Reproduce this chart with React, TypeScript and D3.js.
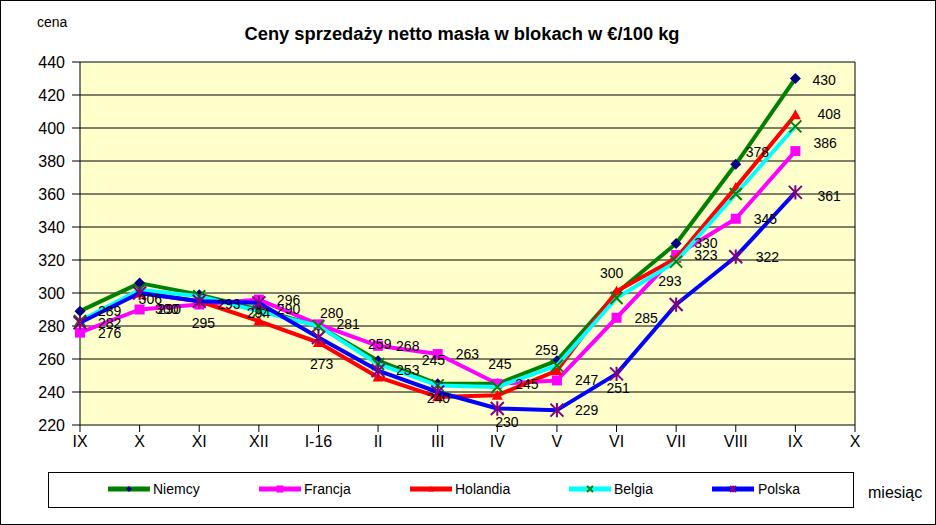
import React from 'react';
import * as d3 from 'd3';

const months = ['IX', 'X', 'XI', 'XII', 'I-16', 'II', 'III', 'IV', 'V', 'VI', 'VII', 'VIII', 'IX', 'X'];
const niemcy = [289, 306, 299, 290, 280, 259, 245, 245, 259, 300, 330, 378, 430];
const francja = [276, 290, 293, 296, 281, 268, 263, 245, 247, 285, 323, 345, 386];
const holandia = [283, 300, 295, 283, 270, 249, 237, 238, 253, 301, 321, 364, 408];
const belgia = [283, 302, 298, 289, 280, 257, 244, 243, 256, 297, 319, 360, 401];
const polska = [282, 300, 295, 294, 273, 253, 240, 230, 229, 251, 293, 322, 361];
const yTicks = [220, 240, 260, 280, 300, 320, 340, 360, 380, 400, 420, 440];
const seriesNames = ['Niemcy', 'Francja', 'Holandia', 'Belgia', 'Polska'];

// which points carry a data label
const labelledNiemcy = [0, 1, 3, 4, 5, 6, 7, 8, 9, 10, 11, 12];
const labelledFrancja = [0, 1, 2, 3, 4, 5, 6, 7, 8, 9, 10, 11, 12];
const labelledHolandia = [12];
const labelledBelgia: number[] = [];
const labelledPolska = [0, 1, 2, 3, 4, 5, 6, 7, 8, 9, 10, 11, 12];

// styling: label nudges (dx from point to label's left edge, dy to label centre)
const nudges: Record<string, [number, number]> = {
  'Niemcy:1': [-1, 16], 'Niemcy:4': [1.5, -13], 'Niemcy:5': [-10, -17], 'Niemcy:6': [-16, -24],
  'Niemcy:8': [-22, -11], 'Niemcy:9': [-16.5, -20], 'Niemcy:11': [10, -12], 'Niemcy:12': [17, 2],
  'Francja:7': [-9, -20], 'Francja:12': [18, -8],
  'Polska:1': [15.5, 16], 'Polska:2': [-7.5, 22], 'Polska:3': [-12, 10], 'Polska:4': [-8.5, 27],
  'Polska:6': [-11, 6], 'Polska:7': [-2, 14], 'Polska:9': [-10, 14], 'Polska:10': [-18, -23],
  'Polska:11': [20, 0], 'Polska:12': [22, 4],
  'Holandia:12': [22, -1],
};

const W = 936, H = 525;
const left = 80, right = 855, top = 62, bottom = 425;
const FONT = 'Arial, "Liberation Sans", sans-serif';

type Marker = 'diamond' | 'square' | 'triangle' | 'x' | 'star';

function MarkerShape({ type, x, y, color, size }: { type: Marker; x: number; y: number; color: string; size: number }) {
  const s = size / 2;
  if (type === 'diamond') {
    return <path d={`M${x},${y - s}L${x + s},${y}L${x},${y + s}L${x - s},${y}Z`} fill={color} />;
  }
  if (type === 'square') {
    return <rect x={x - s} y={y - s} width={size} height={size} fill={color} />;
  }
  if (type === 'triangle') {
    return <path d={`M${x},${y - s}L${x + s},${y + s * 0.8}L${x - s},${y + s * 0.8}Z`} fill={color} />;
  }
  if (type === 'x') {
    return (
      <path d={`M${x - s},${y - s}L${x + s},${y + s}M${x - s},${y + s}L${x + s},${y - s}`} stroke={color} strokeWidth={2} fill="none" />
    );
  }
  return (
    <path
      d={`M${x - s},${y - s}L${x + s},${y + s}M${x - s},${y + s}L${x + s},${y - s}M${x},${y - s * 1.1}L${x},${y + s * 1.1}`}
      stroke={color}
      strokeWidth={2}
      fill="none"
    />
  );
}

export default function App() {
  const x = d3.scalePoint<number>().domain(d3.range(months.length)).range([left, right]);
  const y = d3.scaleLinear().domain([220, 440]).range([bottom, top]);

  const series = [
    { name: seriesNames[0], values: niemcy, line: '#008000', mark: '#000080', marker: 'diamond' as Marker, msize: 11, labelled: labelledNiemcy },
    { name: seriesNames[1], values: francja, line: '#FF00FF', mark: '#FF00FF', marker: 'square' as Marker, msize: 10, labelled: labelledFrancja },
    { name: seriesNames[2], values: holandia, line: '#FF0000', mark: '#FF0000', marker: 'triangle' as Marker, msize: 11, labelled: labelledHolandia },
    { name: seriesNames[3], values: belgia, line: '#00FFFF', mark: '#008000', marker: 'x' as Marker, msize: 12, labelled: labelledBelgia },
    { name: seriesNames[4], values: polska, line: '#0000FF', mark: '#800080', marker: 'star' as Marker, msize: 13, labelled: labelledPolska },
  ];

  const line = d3
    .line<number>()
    .x((_, i) => x(i) as number)
    .y((d) => y(d));

  const legendItems = [
    { lx: 108, tx: 153 },
    { lx: 259, tx: 304 },
    { lx: 410, tx: 455 },
    { lx: 569, tx: 614 },
    { lx: 712, tx: 758 },
  ];

  return (
    <svg width={W} height={H} style={{ position: 'absolute', left: 0, top: 0, background: '#fff' }} fontFamily={FONT}>
      <rect x={0.5} y={0.5} width={W - 1} height={H - 1} fill="#fff" stroke="#000" />
      <text x={462} y={40} textAnchor="middle" fontSize={18} fontWeight="bold" textLength={435} lengthAdjust="spacingAndGlyphs">
        Ceny sprzedaży netto masła w blokach w €/100 kg
      </text>
      <text x={37} y={27} fontSize={14}>cena</text>

      <rect x={left} y={top} width={right - left} height={bottom - top} fill="#FFFFCC" />
      {yTicks.map((t) => (
        <g key={t}>
          <line x1={left} x2={right} y1={y(t)} y2={y(t)} stroke="#000" strokeWidth={1} />
          <line x1={left - 8} x2={left} y1={y(t)} y2={y(t)} stroke="#000" />
          <text x={65} y={y(t)} dy="0.35em" textAnchor="end" fontSize={16}>
            {t}
          </text>
        </g>
      ))}
      <line x1={left} x2={left} y1={top} y2={bottom} stroke="#000" />
      <line x1={right} x2={right} y1={top} y2={bottom} stroke="#000" />
      {months.map((m, i) => (
        <g key={i}>
          <line x1={x(i)} x2={x(i)} y1={bottom} y2={bottom + 7} stroke="#000" />
          <text x={x(i)} y={447} textAnchor="middle" fontSize={16}>
            {m}
          </text>
        </g>
      ))}

      {series.map((s) => (
        <g key={s.name}>
          <path d={line(s.values) || ''} fill="none" stroke={s.line} strokeWidth={4} strokeLinejoin="round" />
          {s.values.map((v, i) => (
            <MarkerShape key={i} type={s.marker} x={x(i) as number} y={y(v)} color={s.mark} size={s.msize} />
          ))}
        </g>
      ))}

      {series.map((s) =>
        s.labelled.map((i) => {
          const [dx, dy] = nudges[`${s.name}:${i}`] || [18, 0];
          return (
            <text key={`${s.name}${i}`} x={(x(i) as number) + dx} y={y(s.values[i]) + dy} dy="0.35em" fontSize={14}>
              {s.values[i]}
            </text>
          );
        })
      )}

      <rect x={48.5} y={472.5} width={805} height={35} fill="#fff" stroke="#000" />
      {series.map((s, i) => {
        const it = legendItems[i];
        return (
          <g key={s.name}>
            <line x1={it.lx} x2={it.lx + 42} y1={489} y2={489} stroke={s.line} strokeWidth={5} />
            <MarkerShape type={s.marker} x={it.lx + 21} y={489} color={s.mark} size={s.marker === 'square' ? 7 : 6} />
            <text x={it.tx} y={489} dy="0.35em" fontSize={14}>
              {s.name}
            </text>
          </g>
        );
      })}
      <text x={868} y={492} dy="0.35em" fontSize={16}>miesiąc</text>
    </svg>
  );
}
